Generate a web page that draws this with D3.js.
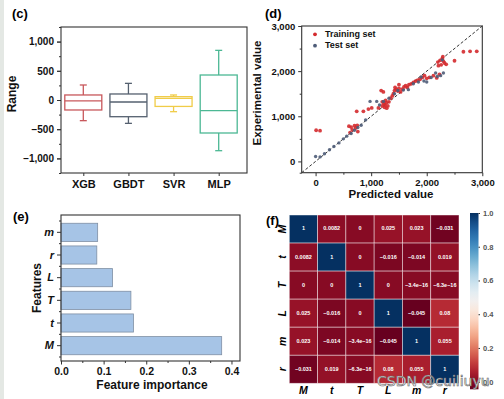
<!DOCTYPE html>
<html>
<head>
<meta charset="utf-8">
<script src="https://cdn.jsdelivr.net/npm/d3@7"></script>
<style>
  body { margin: 0; background: #fff; }
  text { font-family: "Liberation Sans", Arial, sans-serif; }
</style>
</head>
<body>
<div id="chart"></div>
<script>
// (c) box plot
const boxCats = ["XGB", "GBDT", "SVR", "MLP"];
const boxLow = [-354, -400, -200, -868];
const boxQ1 = [-171, -286, -110, -565];
const boxMed = [-15, -34, 27, -183];
const boxQ3 = [86, 103, 57, 428];
const boxHigh = [257, 285, 86, 850];
const boxColors = ["#c8585c", "#55606f", "#f0cc48", "#4cb894"];
const boxTicks = [-1000, -500, 0, 500, 1000];

// (d) scatter
const trainX = [10, 80, 600, 640, 660, 700, 720, 750, 760, 620, 740, 860, 1010, 1130, 950, 1180, 1220,
  1200, 1230, 1250, 1270, 1300, 1240, 1280, 1320, 1200, 1260, 1350, 1380, 1400, 1420, 1450, 1480, 1500,
  1530, 1560, 1590, 1620, 1650, 1680, 1720, 1760, 1800, 1840, 1880, 1920, 1960, 1500, 1430,
  2000, 2050, 2120, 2180, 2230, 2200, 2240, 2280, 2300, 2320, 2260, 2350, 2210, 2290, 2500, 2660, 2780, 2900];
const trainY = [690, 680, 780, 760, 700, 790, 740, 800, 660, 640, 1110, 1110, 1185, 1185, 1160, 1570, 1540,
  1230, 1280, 1250, 1300, 1230, 1200, 1180, 1320, 1320, 1350, 1400, 1450, 1500, 1570, 1600, 1560, 1620,
  1540, 1600, 1650, 1680, 1640, 1700, 1720, 1750, 1780, 1800, 1820, 1860, 1900, 1700, 1640,
  1840, 1860, 1900, 1850, 1930, 2200, 2240, 2280, 2220, 2180, 2140, 2150, 2120, 2320, 2230, 2430, 2440, 2440];
const testX = [0, 80, 160, 250, 330, 420, 500, 560, 640, 700, 760, 820, 900, 980, 1100, 1220, 1150, 1320,
  1420, 1480, 1580, 1670, 1760, 1850, 1950, 2000, 2080, 2160, 2190, 2250, 2300, 2280, 1900];
const testY = [110, 100, 170, 260, 330, 410, 500, 560, 620, 690, 750, 800, 920, 1330, 1330, 1330, 1250, 1400,
  1500, 1570, 1580, 1590, 1720, 1760, 1780, 1760, 1860, 1960, 1880, 1900, 1960, 2250, 1870];
const scatterTicks = [0, 1000, 2000, 3000];

// (e) feature importance, bottom to top
const features = ["M", "t", "T", "L", "r", "m"];
const importance = [0.377, 0.170, 0.164, 0.121, 0.084, 0.086];
const importanceTicks = [0, 0.1, 0.2, 0.3, 0.4];

// (f) correlation heatmap
const hmLabels = ["M", "t", "T", "L", "m", "r"];
const corr = [
  [1, 0.0082, 0, 0.025, 0.023, -0.031],
  [0.0082, 1, 0, -0.016, -0.014, 0.019],
  [0, 0, 1, 0, -3.4e-16, -6.3e-16],
  [0.025, -0.016, 0, 1, -0.045, 0.08],
  [0.023, -0.014, -3.4e-16, -0.045, 1, 0.055],
  [-0.031, 0.019, -6.3e-16, 0.08, 0.055, 1]
];
const cbarTicks = [0, 0.2, 0.4, 0.6, 0.8, 1.0];

const w = 504, h = 399;
const ink = "#333";

const svg = d3.select("#chart").append("svg")
  .attr("width", w).attr("height", h)
  .style("background", "white");

svg.append("rect").attr("x", 0).attr("y", 0).attr("width", 4).attr("height", h).attr("fill", "#e4e8e4");

function styleAxis(g, size) {
  g.select(".domain").remove();
  g.selectAll("line").attr("stroke", ink);
  g.selectAll("text").attr("fill", "#111").style("font-size", size + "px").style("font-weight", "bold");
}

function frame(x0, y0, x1, y1) {
  svg.append("rect").attr("x", x0).attr("y", y0).attr("width", x1 - x0).attr("height", y1 - y0)
    .attr("fill", "none").attr("stroke", ink).attr("stroke-width", 1.1);
}

function panelLabel(t, x, y) {
  svg.append("text").attr("x", x).attr("y", y).text(t)
    .style("font-size", "13px").style("font-weight", "bold");
}

function title(t, x, y, size, rot) {
  svg.append("text").attr("transform", "translate(" + x + "," + y + ")" + (rot ? " rotate(-90)" : ""))
    .attr("text-anchor", "middle").attr("dominant-baseline", "middle")
    .text(t).style("font-size", size + "px").style("font-weight", "bold").attr("fill", "#111");
}

// ---------- (c) ----------
const cL = 61, cR = 247, cT = 27, cB = 173;
const xC = d3.scalePoint().domain(boxCats).range([83.3, 218.7]);
const yC = d3.scaleLinear().domain([-1250, 1250]).range([cB, cT]);
const boxW = 37;

svg.append("g").attr("transform", "translate(" + cL + ",0)")
  .call(d3.axisLeft(yC).tickValues(d3.range(-1250, 1251, 250)).tickSize(0).tickFormat(""))
  .call(g => styleAxis(g, 10))
  .selectAll(".tick line").attr("x2", d => (d % 500 === 0 ? -4 : -2));
svg.append("g").attr("transform", "translate(" + cL + ",0)")
  .call(d3.axisLeft(yC).tickValues(boxTicks).tickSize(4).tickPadding(3).tickFormat(d3.format(",")))
  .call(g => styleAxis(g, 10));
svg.append("g").attr("transform", "translate(0," + cB + ")")
  .call(d3.axisBottom(xC).tickSize(3).tickPadding(4))
  .call(g => styleAxis(g, 11));

const boxG = svg.selectAll(".box").data(boxCats).enter().append("g").attr("class", "box")
  .attr("stroke", (d, i) => boxColors[i]).attr("stroke-width", 1.3).attr("fill", "none");
boxG.append("line").attr("x1", d => xC(d)).attr("x2", d => xC(d))
  .attr("y1", (d, i) => yC(boxHigh[i])).attr("y2", (d, i) => yC(boxQ3[i]));
boxG.append("line").attr("x1", d => xC(d)).attr("x2", d => xC(d))
  .attr("y1", (d, i) => yC(boxQ1[i])).attr("y2", (d, i) => yC(boxLow[i]));
boxG.append("line").attr("x1", d => xC(d) - 3.5).attr("x2", d => xC(d) + 3.5)
  .attr("y1", (d, i) => yC(boxHigh[i])).attr("y2", (d, i) => yC(boxHigh[i]));
boxG.append("line").attr("x1", d => xC(d) - 3.5).attr("x2", d => xC(d) + 3.5)
  .attr("y1", (d, i) => yC(boxLow[i])).attr("y2", (d, i) => yC(boxLow[i]));
boxG.append("rect").attr("x", d => xC(d) - boxW / 2).attr("width", boxW)
  .attr("y", (d, i) => yC(boxQ3[i])).attr("height", (d, i) => yC(boxQ1[i]) - yC(boxQ3[i]))
  .attr("fill", "white");
boxG.append("line").attr("x1", d => xC(d) - boxW / 2).attr("x2", d => xC(d) + boxW / 2)
  .attr("y1", (d, i) => yC(boxMed[i])).attr("y2", (d, i) => yC(boxMed[i]));

frame(cL, cT, cR, cB);
panelLabel("(c)", 12, 18);
title("Range", 12.5, 94, 12, true);

// ---------- (d) ----------
const dL = 301.7, dR = 482.3, dT = 26, dB = 172.7;
const xD = d3.scaleLinear().domain([-250, 3000]).range([dL, dR]);
const yD = d3.scaleLinear().domain([-250, 3000]).range([dB, dT]);

svg.append("g").attr("transform", "translate(" + dL + ",0)")
  .call(d3.axisLeft(yD).tickValues([-250, 500, 1500, 2500]).tickSize(2).tickFormat(""))
  .call(g => styleAxis(g, 9));
svg.append("g").attr("transform", "translate(" + dL + ",0)")
  .call(d3.axisLeft(yD).tickValues(scatterTicks).tickSize(3.5).tickPadding(3).tickFormat(d3.format(",")))
  .call(g => styleAxis(g, 9.5));
svg.append("g").attr("transform", "translate(0," + dB + ")")
  .call(d3.axisBottom(xD).tickValues([500, 1500, 2500]).tickSize(2).tickFormat(""))
  .call(g => styleAxis(g, 9));
svg.append("g").attr("transform", "translate(0," + dB + ")")
  .call(d3.axisBottom(xD).tickValues(scatterTicks).tickSize(3.5).tickPadding(3).tickFormat(d3.format(",")))
  .call(g => styleAxis(g, 9.5));

svg.append("line").attr("x1", xD(-250)).attr("y1", yD(-250)).attr("x2", xD(3000)).attr("y2", yD(3000))
  .attr("stroke", ink).attr("stroke-width", 1).attr("stroke-dasharray", "3,2");

svg.selectAll(".train").data(trainX).enter().append("circle").attr("class", "train")
  .attr("cx", d => xD(d)).attr("cy", (d, i) => yD(trainY[i])).attr("r", 1.9)
  .attr("fill", "#d42a2e").attr("opacity", 0.9);
svg.selectAll(".test").data(testX).enter().append("circle").attr("class", "test")
  .attr("cx", d => xD(d)).attr("cy", (d, i) => yD(testY[i])).attr("r", 1.7)
  .attr("fill", "#4e5c78").attr("opacity", 0.9);

const legend = [["Training set", "#d42a2e"], ["Test set", "#4e5c78"]];
legend.forEach((l, i) => {
  svg.append("circle").attr("cx", 315).attr("cy", 34.3 + i * 11.4).attr("r", 1.9).attr("fill", l[1]);
  svg.append("text").attr("x", 325).attr("y", 34.3 + i * 11.4).attr("dominant-baseline", "middle")
    .text(l[0]).style("font-size", "9px").style("font-weight", "bold").attr("fill", "#111");
});

frame(dL, dT, dR, dB);
panelLabel("(d)", 265, 18);
title("Experimental value", 258, 93, 11.5, true);
title("Predicted value", 391, 195, 11.5, false);

// ---------- (e) ----------
const eL = 61, eR = 240, eT = 215, eB = 361;
const xE = d3.scaleLinear().domain([0, 0.42]).range([eL, eR]);
const yE = d3.scaleBand().domain(features).range([357, 221]).paddingInner(0.2).paddingOuter(0.1);

svg.selectAll(".bar").data(features).enter().append("rect").attr("class", "bar")
  .attr("x", eL).attr("y", d => yE(d))
  .attr("width", (d, i) => xE(importance[i]) - eL).attr("height", yE.bandwidth())
  .attr("fill", "#a6c4e6").attr("stroke", "#7f8fa4").attr("stroke-width", 0.8);

const bandEdges = features.map(d => yE(d) - yE.step() * 0.1).concat([yE(features[0]) + yE.bandwidth() + yE.step() * 0.1]);
svg.selectAll(".eminor").data(bandEdges).enter().append("line").attr("class", "eminor")
  .attr("x1", eL).attr("x2", eL - 2).attr("y1", d => d).attr("y2", d => d).attr("stroke", ink);
svg.append("g").attr("transform", "translate(" + eL + ",0)")
  .call(d3.axisLeft(yE).tickSize(4).tickPadding(3))
  .call(g => styleAxis(g, 11))
  .selectAll("text").style("font-style", "italic");
svg.append("g").attr("transform", "translate(0," + eB + ")")
  .call(d3.axisBottom(xE).tickValues([0.05, 0.15, 0.25, 0.35]).tickSize(2).tickFormat(""))
  .call(g => styleAxis(g, 9));
svg.append("g").attr("transform", "translate(0," + eB + ")")
  .call(d3.axisBottom(xE).tickValues(importanceTicks).tickSize(3.5).tickPadding(3).tickFormat(d3.format(".1f")))
  .call(g => styleAxis(g, 10.5));

frame(eL, eT, eR, eB);
panelLabel("(e)", 13, 221);
title("Features", 38, 288, 12, true);
title("Feature importance", 152, 386, 12, false);

// ---------- (f) ----------
const vmin = -0.045, vmax = 1;
const color = v => d3.interpolateRdBu((v - vmin) / (vmax - vmin));
const xF = d3.scaleBand().domain(hmLabels).range([289.3, 459]);
const yF = d3.scaleBand().domain(hmLabels).range([215, 383.3]);

function fmt(v) {
  let s;
  if (v === 0) s = "0";
  else if (Math.abs(v) < 1e-4) s = v.toExponential(1);
  else s = String(v);
  return s.replace(/-/g, "\u2212");
}

const cells = [];
hmLabels.forEach((r, i) => hmLabels.forEach((c, j) => cells.push({ r: r, c: c, v: corr[i][j] })));

svg.selectAll(".cell").data(cells).enter().append("rect").attr("class", "cell")
  .attr("x", d => xF(d.c)).attr("y", d => yF(d.r))
  .attr("width", xF.bandwidth()).attr("height", yF.bandwidth())
  .attr("fill", d => color(d.v)).attr("stroke", "rgba(255,255,255,0.55)").attr("stroke-width", 0.8);
svg.selectAll(".ann").data(cells).enter().append("text").attr("class", "ann")
  .attr("x", d => xF(d.c) + xF.bandwidth() / 2).attr("y", d => yF(d.r) + yF.bandwidth() / 2)
  .attr("text-anchor", "middle").attr("dominant-baseline", "middle")
  .attr("fill", "#fff").style("font-size", "5.5px").style("font-weight", "bold")
  .text(d => fmt(d.v));

svg.selectAll(".rowlab").data(hmLabels).enter().append("text").attr("class", "rowlab")
  .attr("transform", d => "translate(283," + (yF(d) + yF.bandwidth() / 2) + ") rotate(-90)")
  .attr("text-anchor", "middle").attr("dominant-baseline", "middle")
  .style("font-size", "10.5px").style("font-weight", "bold").style("font-style", "italic")
  .text(d => d);
svg.selectAll(".collab").data(hmLabels).enter().append("text").attr("class", "collab")
  .attr("x", d => xF(d) + xF.bandwidth() / 2).attr("y", 391.5)
  .attr("text-anchor", "middle").attr("dominant-baseline", "middle")
  .style("font-size", "10.5px").style("font-weight", "bold").style("font-style", "italic")
  .text(d => d);

// colorbar
const cb = d3.scaleLinear().domain([vmin, vmax]).range([389.3, 213]);
const grad = svg.append("defs").append("linearGradient").attr("id", "cbgrad")
  .attr("x1", 0).attr("y1", 1).attr("x2", 0).attr("y2", 0);
d3.range(0, 1.001, 0.05).forEach(t => {
  grad.append("stop").attr("offset", t).attr("stop-color", d3.interpolateRdBu(t));
});
svg.append("rect").attr("x", 470).attr("y", 213).attr("width", 8.5).attr("height", 389.3 - 213)
  .attr("fill", "url(#cbgrad)");
svg.append("g").attr("transform", "translate(478.5,0)")
  .call(d3.axisRight(cb).tickValues(cbarTicks).tickSize(1.5).tickPadding(3).tickFormat(d3.format(".1f")))
  .call(g => styleAxis(g, 7.5))
  .selectAll("text").attr("fill", "#555");

panelLabel("(f)", 266, 225);

// watermark
svg.append("text").attr("x", 377).attr("y", 386).text("CSDN @cuiliuyu")
  .style("font-size", "14px").attr("fill", "white").attr("stroke", "#666").attr("stroke-width", 0.6)
  .style("font-family", "'DejaVu Sans', sans-serif");
</script>
</body>
</html>
